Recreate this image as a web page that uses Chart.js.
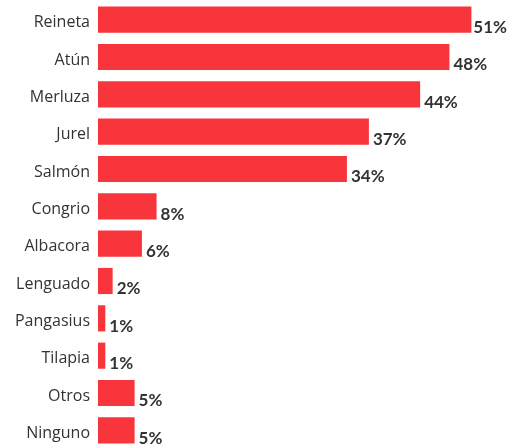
<!DOCTYPE html>
<html><head><meta charset="utf-8">
<script src="https://cdn.jsdelivr.net/npm/chart.js@4/dist/chart.umd.min.js"></script>
<style>html,body{margin:0;padding:0;background:#fff;overflow:hidden;width:508px;height:445px}</style>
</head><body>
<canvas id="c" width="508" height="449"></canvas>
<script>
const categories = ['Reineta','Atún','Merluza','Jurel','Salmón','Congrio','Albacora','Lenguado','Pangasius','Tilapia','Otros','Ninguno'];
const values = [51,48,44,37,34,8,6,2,1,1,5,5];
const valueLabels = ['51%','48%','44%','37%','34%','8%','6%','2%','1%','1%','5%','5%'];

const labelPlugin = {
  id:'vlabels',
  afterDatasetsDraw(chart){
    const ctx = chart.ctx;
    const meta = chart.getDatasetMeta(0);
    ctx.save();
    ctx.font = 'bold 17px Lato';
    ctx.fillStyle = '#333';
    ctx.textAlign = 'left';
    ctx.textBaseline = 'middle';
    meta.data.forEach((bar,i)=>{
      const w = ctx.measureText(valueLabels[i]).width;
      const x = Math.min(bar.x + 4, chart.width - w - 1);
      ctx.fillText(valueLabels[i], x, bar.y + 8);
    });
    ctx.restore();
  }
};

new Chart(document.getElementById('c'), {
  type:'bar',
  data:{labels:categories, datasets:[{data:values, backgroundColor:'#f8353a', barPercentage:0.7, categoryPercentage:1}]},
  options:{
    indexAxis:'y', responsive:false, animation:false,
    layout:{padding:{top:1,bottom:0,left:0,right:0}},
    plugins:{legend:{display:false}, tooltip:{enabled:false}},
    scales:{
      x:{display:false, min:0, max:56},
      y:{
        grid:{display:false, drawTicks:false}, border:{display:false},
        ticks:{padding:8, labelOffset:3, color:'#333', font:{family:'"Open Sans"', size:16, weight:'500'}},
        afterFit(s){ s.width = 98; s.paddingTop = 0; s.paddingBottom = 0; }
      }
    }
  },
  plugins:[labelPlugin]
});
</script>
</body></html>
